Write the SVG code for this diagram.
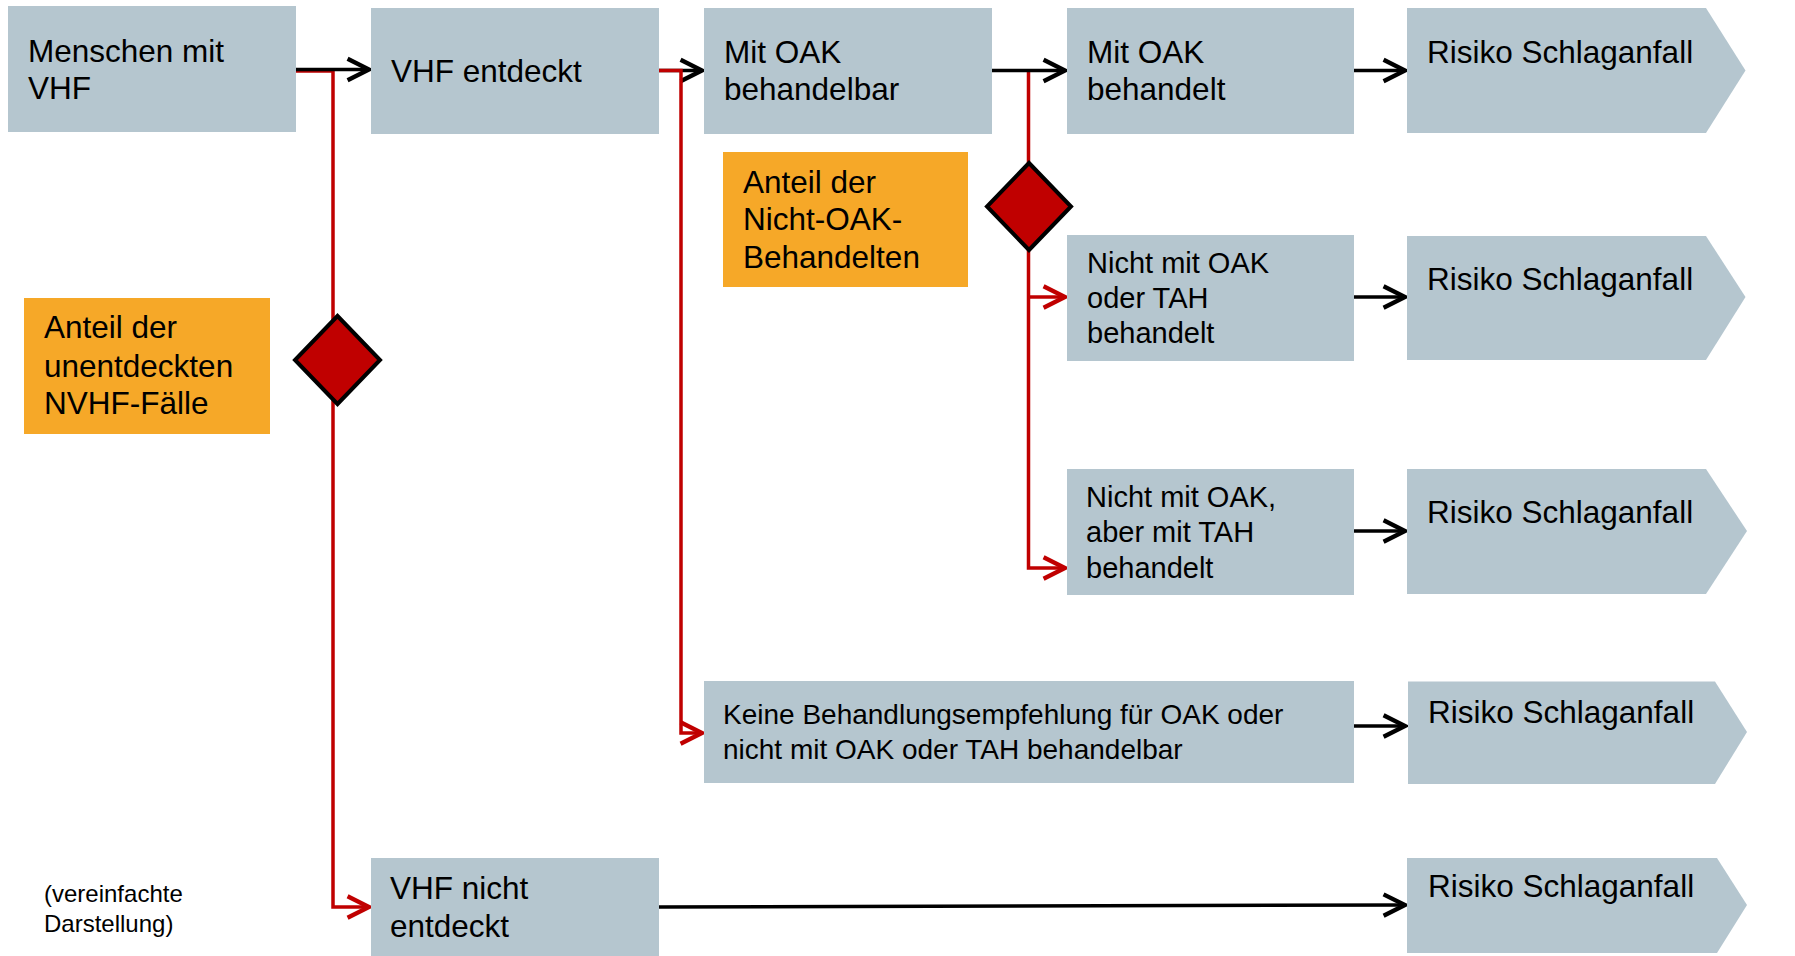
<svg xmlns="http://www.w3.org/2000/svg" width="1795" height="956" viewBox="0 0 1795 956">
<defs>
<style>
.box{fill:#B5C6CF}
.org{fill:#F6A828}
.dia{fill:#C00000;stroke:#000;stroke-width:4;stroke-linejoin:miter}
text{font-family:"Liberation Sans",Arial,sans-serif;fill:#000}
.t{font-size:31.5px}
.s{font-size:29px}
.k{font-size:28px}
.n{font-size:24px}
.blk{fill:none;stroke:#000;stroke-width:3.5}
.red{fill:none;stroke:#C00000;stroke-width:3.5}
</style>
<marker id="ab" markerUnits="userSpaceOnUse" markerWidth="30" markerHeight="30" refX="0" refY="0" viewBox="-24 -14 28 28" orient="auto" overflow="visible">
<path d="M-20,-10 L0,0 L-20,10" fill="none" stroke="#000" stroke-width="4"/>
</marker>
<marker id="ar" markerUnits="userSpaceOnUse" markerWidth="30" markerHeight="30" refX="0" refY="0" viewBox="-24 -14 28 28" orient="auto" overflow="visible">
<path d="M-20,-10 L0,0 L-20,10" fill="none" stroke="#C00000" stroke-width="4"/>
</marker>
</defs>
<rect width="1795" height="956" fill="#fff"/>

<g id="connectors">
<path class="red" d="M296,71 H333 V907 H369" marker-end="url(#ar)"/>
<path class="blk" d="M296,69.5 H369" marker-end="url(#ab)"/>
<path class="blk" d="M659,70.5 H702" marker-end="url(#ab)"/>
<path class="red" d="M659,70.5 H681 V733 H702" marker-end="url(#ar)"/>
<path class="red" d="M1028.5,71 V568 H1065" marker-end="url(#ar)"/>
<path class="red" d="M1028.5,297 H1065" marker-end="url(#ar)"/>
<path class="blk" d="M992,70.5 H1065" marker-end="url(#ab)"/>
<path class="blk" d="M1354,70.5 H1405" marker-end="url(#ab)"/>
<path class="blk" d="M1354,297 H1405" marker-end="url(#ab)"/>
<path class="blk" d="M1354,531 H1405" marker-end="url(#ab)"/>
<path class="blk" d="M1354,726 H1405" marker-end="url(#ab)"/>
<path class="blk" d="M659,907 L1405,905" marker-end="url(#ab)"/>
</g>

<g id="n-menschen">
<rect class="box" x="8" y="6" width="288" height="126"/>
<text class="t" x="28" y="62">Menschen mit</text>
<text class="t" x="28" y="99">VHF</text>
</g>
<g id="n-entdeckt">
<rect class="box" x="371" y="8" width="288" height="126"/>
<text class="t" x="391" y="82">VHF entdeckt</text>
</g>
<g id="n-behandelbar">
<rect class="box" x="704" y="8" width="288" height="126"/>
<text class="t" x="724" y="63">Mit OAK</text>
<text class="t" x="724" y="100">behandelbar</text>
</g>
<g id="n-behandelt">
<rect class="box" x="1067" y="8" width="287" height="126"/>
<text class="t" x="1087" y="63">Mit OAK</text>
<text class="t" x="1087" y="100">behandelt</text>
</g>
<g id="n-risiko1">
<path class="box" d="M1407,8 H1706 L1745.5,70.5 L1706,133 H1407 Z"/>
<text class="t" x="1427" y="63">Risiko Schlaganfall</text>
</g>
<g id="n-anteil-nicht-oak">
<rect class="org" x="723" y="152" width="245" height="135"/>
<text class="t" x="743" y="193">Anteil der</text>
<text class="t" x="743" y="230">Nicht-OAK-</text>
<text class="t" x="743" y="268">Behandelten</text>
</g>
<g id="n-dia2">
<path class="dia" d="M1029,163 L1071,206.5 L1029,250 L987,206.5 Z"/>
</g>
<g id="n-nicht-oak-tah">
<rect class="box" x="1067" y="235" width="287" height="126"/>
<text class="s" x="1087" y="273">Nicht mit OAK</text>
<text class="s" x="1087" y="308">oder TAH</text>
<text class="s" x="1087" y="343">behandelt</text>
</g>
<g id="n-risiko2">
<path class="box" d="M1407,236 H1706 L1745.5,297 L1706,360 H1407 Z"/>
<text class="t" x="1427" y="290">Risiko Schlaganfall</text>
</g>
<g id="n-nicht-oak-aber-tah">
<rect class="box" x="1067" y="469" width="287" height="126"/>
<text class="s" x="1086" y="507">Nicht mit OAK,</text>
<text class="s" x="1086" y="542">aber mit TAH</text>
<text class="s" x="1086" y="578">behandelt</text>
</g>
<g id="n-risiko3">
<path class="box" d="M1407,469 H1706 L1747,531 L1706,594 H1407 Z"/>
<text class="t" x="1427" y="522.5">Risiko Schlaganfall</text>
</g>
<g id="n-keine">
<rect class="box" x="704" y="681" width="650" height="102"/>
<text class="k" x="723" y="724">Keine Behandlungsempfehlung für OAK oder</text>
<text class="k" x="723" y="758.5">nicht mit OAK oder TAH behandelbar</text>
</g>
<g id="n-risiko4">
<path class="box" d="M1408,681.5 H1715 L1747,732 L1715,784 H1408 Z"/>
<text class="t" x="1428" y="722.5">Risiko Schlaganfall</text>
</g>
<g id="n-dia1">
<path class="dia" d="M337.5,316 L380,360 L337.5,404 L295,360 Z"/>
</g>
<g id="n-anteil-unentdeckt">
<rect class="org" x="24" y="298" width="246" height="136"/>
<text class="t" x="44" y="338">Anteil der</text>
<text class="t" x="44" y="377">unentdeckten</text>
<text class="t" x="44" y="414">NVHF-Fälle</text>
</g>
<g id="n-nicht-entdeckt">
<rect class="box" x="371" y="858" width="288" height="100"/>
<text class="t" x="390" y="899">VHF nicht</text>
<text class="t" x="390" y="937">entdeckt</text>
</g>
<g id="n-risiko5">
<path class="box" d="M1407,858 H1717 L1747,905 L1717,953 H1407 Z"/>
<text class="t" x="1428" y="897">Risiko Schlaganfall</text>
</g>
<g id="n-note">
<text class="n" x="44" y="901.5">(vereinfachte</text>
<text class="n" x="44" y="931.5">Darstellung)</text>
</g>
</svg>
